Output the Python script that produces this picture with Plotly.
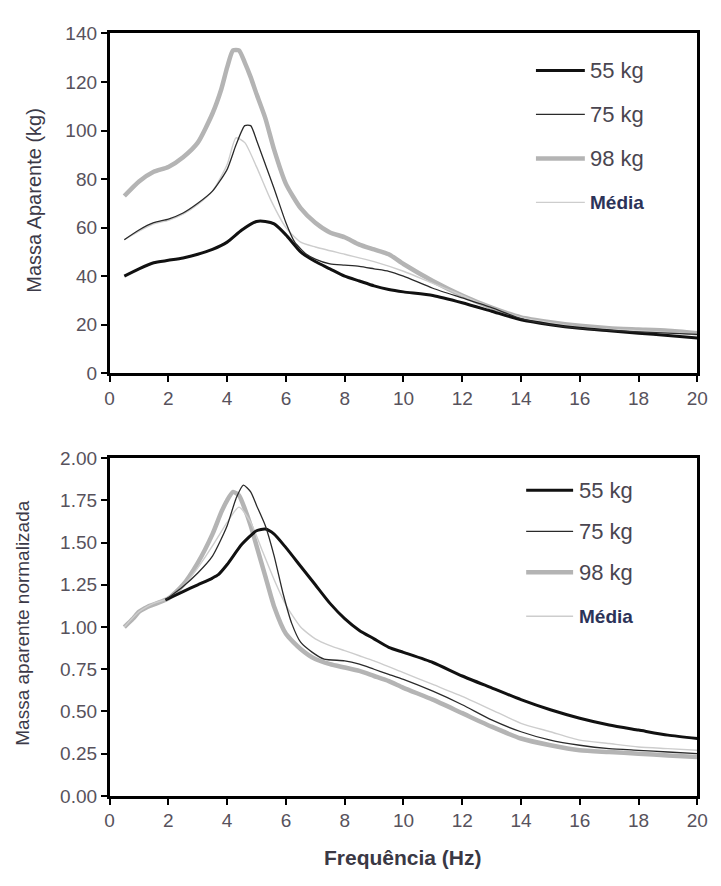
import plotly.graph_objects as go

# ---------------- data ----------------
# Top panel: apparent mass (kg) vs frequency (Hz)
top_f_55 = [0.5, 1.0, 1.5, 2.0, 2.5, 3.0, 3.5, 4.0, 4.5, 5.0, 5.3, 5.6, 6.0, 6.5, 7.0, 7.5, 8.0, 8.5, 9.0, 9.5, 10, 11, 12, 13, 14, 15, 16, 17, 18, 19, 20]
top_v_55 = [40, 43, 45.5, 46.5, 47.5, 49, 51, 54, 59, 62.5, 62.5, 61.5, 57, 50, 46, 43, 40, 38, 36, 34.5, 33.5, 32, 29, 25.5, 22, 20, 18.5, 17.5, 16.5, 15.5, 14.5]

top_f_75 = [0.5, 1.0, 1.5, 2.0, 2.5, 3.0, 3.5, 4.0, 4.3, 4.6, 4.8, 5.0, 5.3, 5.6, 6.0, 6.3, 6.7, 7.0, 7.5, 8.0, 8.5, 9.0, 9.5, 10, 11, 12, 13, 14, 15, 16, 18, 20]
top_v_75 = [55, 59, 62, 63.5, 66, 70, 75, 84, 94, 102, 102, 96, 86, 76, 62, 54, 49, 47, 45, 44.5, 44, 43, 42, 40, 35, 31, 27, 22.5, 20, 18.5, 17, 16]

top_f_98 = [0.5, 1.0, 1.5, 2.0, 2.5, 3.0, 3.5, 3.8, 4.0, 4.2, 4.4, 4.6, 4.8, 5.0, 5.3, 5.6, 6.0, 6.5, 7.0, 7.5, 8.0, 8.5, 9.0, 9.5, 10, 11, 12, 13, 14, 15, 16, 17, 18, 19, 20]
top_v_98 = [73, 79, 83, 85, 89, 95, 107, 117, 126, 133, 133, 128, 122, 115, 105, 92, 78, 68, 62, 58, 56, 53, 51, 49, 45, 38, 32, 27, 23, 21, 19.5, 18.5, 18, 17.5, 16.5]

top_f_med = [0.5, 1.0, 1.5, 2.0, 2.5, 3.0, 3.5, 4.0, 4.3, 4.6, 5.0, 5.5, 6.0, 6.5, 7.0, 8.0, 9.0, 10, 11, 12, 13, 14, 16, 18, 20]
top_v_med = [55, 58.5, 61.5, 63, 65.5, 69.5, 75, 86, 97, 95, 85, 71, 60, 54, 52, 49, 46, 42, 37, 32, 27, 23, 19, 17.5, 16]

# Bottom panel: normalized apparent mass vs frequency (Hz)
bot_f_55 = [1.9, 2.5, 3.0, 3.5, 3.7, 4.0, 4.5, 5.0, 5.3, 5.6, 6.0, 6.5, 7.0, 7.5, 8.0, 8.5, 9.0, 9.5, 10, 11, 12, 13, 14, 15, 16, 17, 18, 19, 20]
bot_v_55 = [1.16, 1.21, 1.25, 1.29, 1.31, 1.37, 1.49, 1.57, 1.58, 1.55, 1.47, 1.36, 1.25, 1.14, 1.05, 0.98, 0.93, 0.88, 0.85, 0.79, 0.71, 0.64, 0.57, 0.51, 0.46, 0.42, 0.39, 0.36, 0.34]

bot_f_75 = [1.9, 2.5, 3.0, 3.5, 4.0, 4.3, 4.55, 4.8, 5.0, 5.3, 5.6, 5.9, 6.2, 6.5, 6.9, 7.3, 8.0, 8.5, 9.0, 9.5, 10, 11, 12, 13, 14, 15, 16, 17, 18, 19, 20]
bot_v_75 = [1.16, 1.24, 1.32, 1.42, 1.6, 1.76, 1.84, 1.80, 1.72, 1.6, 1.42, 1.2, 1.02, 0.91, 0.85, 0.81, 0.80, 0.78, 0.75, 0.72, 0.69, 0.62, 0.54, 0.45, 0.38, 0.33, 0.30, 0.28, 0.27, 0.26, 0.25]

bot_f_98 = [0.5, 0.8, 1.0, 1.3, 1.6, 2.0, 2.5, 3.0, 3.5, 3.8, 4.0, 4.2, 4.4, 4.6, 4.8, 5.0, 5.3, 5.6, 6.0, 6.5, 7.0, 7.5, 8.0, 8.5, 9.0, 9.5, 10, 11, 12, 13, 14, 15, 16, 17, 18, 19, 20]
bot_v_98 = [1.0, 1.05, 1.09, 1.12, 1.14, 1.17, 1.25, 1.38, 1.55, 1.68, 1.75, 1.80, 1.78, 1.70, 1.60, 1.48, 1.30, 1.12, 0.96, 0.87, 0.81, 0.78, 0.76, 0.74, 0.71, 0.68, 0.64, 0.57, 0.49, 0.41, 0.34, 0.30, 0.27, 0.26, 0.25, 0.24, 0.23]

bot_f_med = [0.5, 1.0, 1.5, 2.0, 2.5, 3.0, 3.5, 4.0, 4.4, 4.8, 5.2, 5.6, 6.0, 6.5, 7.0, 7.5, 8.0, 8.5, 9.0, 10, 11, 12, 13, 14, 15, 16, 17, 18, 19, 20]
bot_v_med = [1.0, 1.09, 1.14, 1.17, 1.24, 1.35, 1.48, 1.62, 1.71, 1.62, 1.45, 1.28, 1.13, 1.0, 0.93, 0.89, 0.86, 0.83, 0.80, 0.73, 0.66, 0.59, 0.51, 0.43, 0.38, 0.33, 0.31, 0.29, 0.28, 0.27]

series_names = ["55 kg", "75 kg", "98 kg", "Média"]
x_ticks = [0, 2, 4, 6, 8, 10, 12, 14, 16, 18, 20]
top_y_ticks = [0, 20, 40, 60, 80, 100, 120, 140]
bot_y_ticks = [0.0, 0.25, 0.5, 0.75, 1.0, 1.25, 1.5, 1.75, 2.0]

# ---------------- styling ----------------
W, H = 721, 886
colors = ["#111111", "#2a2a2a", "#b4b4b4", "#cdcdcd"]
widths = [3.0, 1.3, 4.5, 1.4]
tick_color = "#57525c"
FONT = "Liberation Sans, Arial, sans-serif"

def px_x(p):
    return p / W

def px_y(p):
    return 1 - p / H

fig = go.Figure()

top_data = [(top_f_55, top_v_55), (top_f_75, top_v_75), (top_f_98, top_v_98), (top_f_med, top_v_med)]
bot_data = [(bot_f_55, bot_v_55), (bot_f_75, bot_v_75), (bot_f_98, bot_v_98), (bot_f_med, bot_v_med)]

order = [2, 3, 0, 1]
for i in order:
    f, v = top_data[i]
    fig.add_trace(go.Scatter(x=f, y=v, mode="lines", name=series_names[i],
                             line=dict(color=colors[i], width=widths[i], shape="spline", smoothing=0.6),
                             xaxis="x", yaxis="y", showlegend=False))
for i in order:
    f, v = bot_data[i]
    fig.add_trace(go.Scatter(x=f, y=v, mode="lines", name=series_names[i],
                             line=dict(color=colors[i], width=widths[i], shape="spline", smoothing=0.6),
                             xaxis="x2", yaxis="y2", showlegend=False))

x_dom = [px_x(107), px_x(708)]
axis_common = dict(showline=True, linecolor="black", linewidth=2.5, mirror=True,
                   ticks="outside", ticklen=6, tickwidth=2, tickcolor="black",
                   showgrid=False, zeroline=False,
                   tickfont=dict(family=FONT, size=19, color=tick_color))

fig.update_layout(
    width=W, height=H,
    margin=dict(l=0, r=0, t=0, b=0),
    paper_bgcolor="white", plot_bgcolor="white",
    xaxis=dict(domain=x_dom, range=[0, 20], tickvals=x_ticks, anchor="y", **axis_common),
    yaxis=dict(domain=[px_y(372), px_y(24)], range=[0, 140], tickvals=top_y_ticks, anchor="x", **axis_common),
    xaxis2=dict(domain=x_dom, range=[0, 20], tickvals=x_ticks, anchor="y2", **axis_common),
    yaxis2=dict(domain=[px_y(805), px_y(459)], range=[0, 2], tickvals=bot_y_ticks,
                tickformat=".2f", anchor="x2", **axis_common),
    showlegend=False,
)

annotations = []
shapes = []

annotations.append(dict(text="Massa Aparente (kg)", x=px_x(30), y=px_y(195), xref="paper", yref="paper",
                        textangle=-90, showarrow=False, xanchor="center", yanchor="middle",
                        font=dict(family=FONT, size=20, color="#3c3a48")))
annotations.append(dict(text="Massa aparente normalizada", x=px_x(18), y=px_y(628), xref="paper", yref="paper",
                        textangle=-90, showarrow=False, xanchor="center", yanchor="middle",
                        font=dict(family=FONT, size=19, color="#3c3a48")))
annotations.append(dict(text="<b>Frequência (Hz)</b>", x=px_x(407), y=px_y(868), xref="paper", yref="paper",
                        showarrow=False, xanchor="center", yanchor="middle",
                        font=dict(family="Liberation Sans Narrow, Liberation Sans, Arial", size=21, color="#3a3844")))

def add_legend(x0, x1, rows, txt_x):
    for i, yy in enumerate(rows):
        shapes.append(dict(type="line", xref="paper", yref="paper",
                           x0=px_x(x0), x1=px_x(x1), y0=px_y(yy), y1=px_y(yy),
                           line=dict(color=colors[i], width=widths[i])))
        if series_names[i] == "Média":
            txt = "<b>Média</b>"
            col = "#2c3358"
            size = 19
        else:
            txt = series_names[i]
            col = "#4a4650"
            size = 22
        annotations.append(dict(text=txt, x=px_x(txt_x), y=px_y(yy), xref="paper", yref="paper",
                                showarrow=False, xanchor="left", yanchor="middle",
                                font=dict(family=FONT, size=size, color=col)))

add_legend(543, 593, [62, 107, 152, 197], 596)
add_legend(533, 581, [492, 534, 576, 621], 585)

fig.update_layout(annotations=annotations, shapes=shapes)

fig.write_html("out.html")
